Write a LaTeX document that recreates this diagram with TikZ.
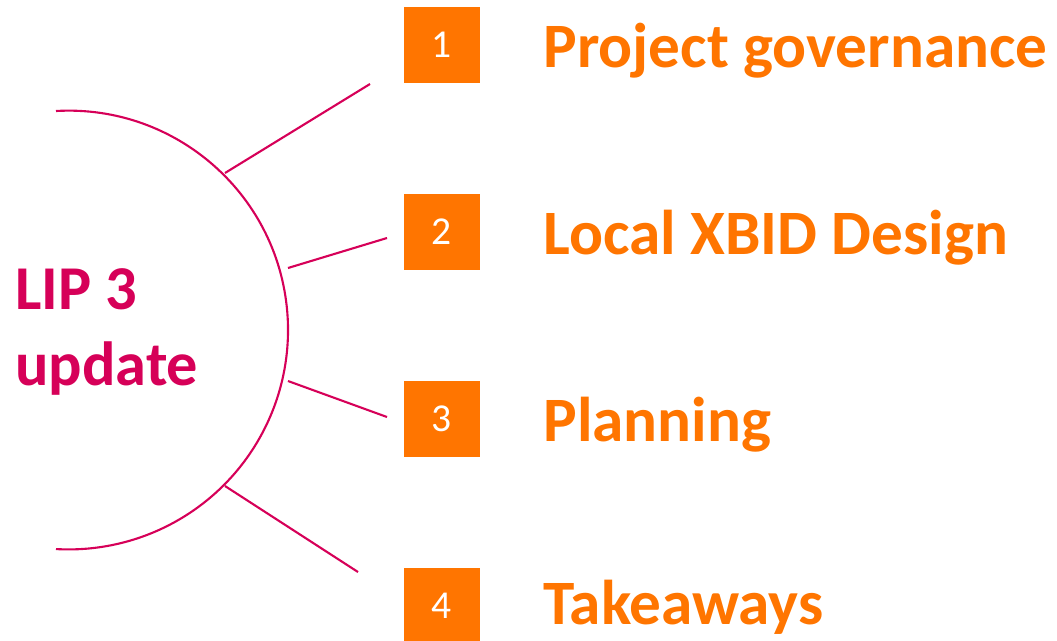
\documentclass[tikz,border=0pt]{standalone}
\usepackage{fontspec}
\setmainfont{Carlito}
\definecolor{lipred}{HTML}{D60058}
\definecolor{liporange}{HTML}{FF7500}
\tikzset{
  numbox/.style={fill=liporange, text=white, minimum size=1.52cm, inner sep=0pt,
    font=\fontsize{22.5}{27}\selectfont},
  itemtext/.style={text=liporange, anchor=base west, inner sep=0pt,
    font=\bfseries\fontsize{36}{43}\selectfont},
  spoke/.style={draw=lipred, line width=1.2pt}
}
\begin{document}
\begin{tikzpicture}[x=0.02cm, y=-0.02cm]
            \useasboundingbox (0,0) rectangle (1057,640);
            % half circle
            \draw[spoke] (56,111) arc[start angle=-93.3, end angle=93.3, radius=219.4];
            \node[text=lipred, anchor=base west, align=left, inner sep=0pt,
              font=\bfseries\fontsize{35.5}{43}\selectfont] (lip) at (15,385) {LIP 3\\update};
            % numbered items
            \node[numbox] (1) at (442,45) {1};
            \node[numbox] (2) at (442,232) {2};
            \node[numbox] (3) at (442,419) {3};
            \node[numbox] (4) at (442,606) {4};
            \node[itemtext] (t1) at (543,67) {Project governance};
            \node[itemtext] (t2) at (543,254) {Local XBID Design};
            \node[itemtext] (t3) at (543,441) {Planning};
            \node[itemtext] (t4) at (543,624) {Takeaways};
            % spokes
            \coordinate (a1) at (225,173);
            \coordinate (a2) at (288,268);
            \coordinate (a3) at (288,381);
            \coordinate (a4) at (225,486);
            \coordinate (e1) at (370,84);
            \coordinate (e2) at (387,238);
            \coordinate (e3) at (387,417);
            \coordinate (e4) at (358,572);
            \draw[spoke] (a1) -- (e1);
            \draw[spoke] (a2) -- (e2);
            \draw[spoke] (a3) -- (e3);
            \draw[spoke] (a4) -- (e4);
\end{tikzpicture}
\end{document}
